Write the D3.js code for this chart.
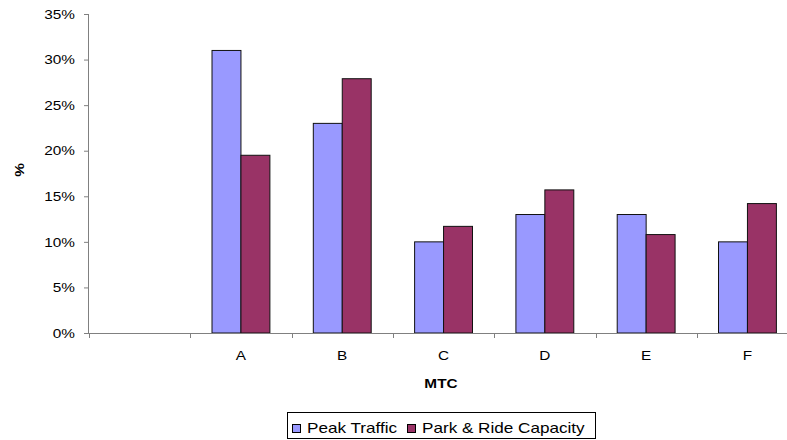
<!DOCTYPE html>
<html>
<head>
<meta charset="utf-8">
<script src="https://cdn.jsdelivr.net/npm/d3@7"></script>
<style>
  body { margin: 0; background: #fff; }
  svg { display: block; font-family: "Liberation Sans", Arial, sans-serif; }
</style>
</head>
<body>
<div id="chart"></div>
<script>
// categories (first slot is empty in the original sheet)
const categories = ['', 'A', 'B', 'C', 'D', 'E', 'F'];
const seriesNames = ['Peak Traffic', 'Park & Ride Capacity'];
const peakTraffic = [null, 31, 23, 10, 13, 13, 10];
const parkRide = [null, 19.5, 27.9, 11.7, 15.7, 10.8, 14.2];
const yTicks = [0, 5, 10, 15, 20, 25, 30, 35];
const colors = ['#9999FF', '#993366'];

const W = 787, H = 440;
const stretchK = 1.18; // text in the original is a bit wide

const svg = d3.select('#chart').append('svg')
    .attr('width', W)
    .attr('height', H);

// plot area runs a bit past the right edge, like the source image
const plotLeft = 89, plotTop = 14, plotBottom = 333;
const step = 101.3;

const x0 = d3.scaleBand()
    .domain(categories)
    .range([plotLeft, plotLeft + step * categories.length])
    .padding(0);

const x1 = d3.scaleBand()
    .domain(seriesNames)
    .range([0, x0.bandwidth()])
    .paddingInner(0)
    .paddingOuter(0.75);

const y = d3.scaleLinear()
    .domain([0, 35])
    .range([plotBottom, plotTop]);

function stretch(sel) {
    sel.each(function() {
        const len = this.getComputedTextLength();
        d3.select(this)
            .attr('textLength', len * stretchK)
            .attr('lengthAdjust', 'spacingAndGlyphs');
    });
}

// bars
const rows = categories.map((c, i) => ({cat: c, vals: [peakTraffic[i], parkRide[i]]}));

const groups = svg.append('g').selectAll('g')
    .data(rows)
    .join('g')
    .attr('transform', d => `translate(${x0(d.cat)},0)`);

groups.selectAll('rect')
    .data(d => d.vals.map((v, j) => ({name: seriesNames[j], v: v, j: j})).filter(e => e.v != null))
    .join('rect')
    .attr('x', d => x1(d.name))
    .attr('y', d => y(d.v))
    .attr('width', x1.bandwidth())
    .attr('height', d => y(0) - y(d.v))
    .attr('fill', d => colors[d.j])
    .attr('stroke', '#111')
    .attr('stroke-width', 1);

// y axis
const yAxis = svg.append('g')
    .attr('transform', `translate(${plotLeft},0)`)
    .call(d3.axisLeft(y).tickValues(yTicks).tickFormat(d => d + '%').tickSize(5).tickPadding(9));
yAxis.select('.domain').attr('stroke', '#808080').attr('d', `M-0.5,${plotTop}V${plotBottom}`);
yAxis.selectAll('.tick line').attr('stroke', '#808080');
yAxis.selectAll('.tick text')
    .attr('font-size', 13)
    .attr('fill', '#000')
    .attr('font-family', '"Liberation Sans", Arial, sans-serif');

// x axis: ticks sit between categories
const xAxis = svg.append('g')
    .attr('transform', `translate(0,${plotBottom})`);
xAxis.append('line')
    .attr('x1', plotLeft).attr('x2', plotLeft + step * categories.length)
    .attr('y1', 0.5).attr('y2', 0.5)
    .attr('stroke', '#808080');
xAxis.selectAll('.xt')
    .data(categories.concat(['end']))
    .join('line')
    .attr('class', 'xt')
    .attr('x1', (d, i) => Math.round(plotLeft + step * i) + 0.5)
    .attr('x2', (d, i) => Math.round(plotLeft + step * i) + 0.5)
    .attr('y1', 0).attr('y2', 5)
    .attr('stroke', '#808080');
xAxis.selectAll('.xl')
    .data(categories)
    .join('text')
    .attr('class', 'xl')
    .attr('x', d => x0(d) + x0.bandwidth() / 2)
    .attr('y', 27)
    .attr('text-anchor', 'middle')
    .attr('font-size', 13)
    .text(d => d);

// axis titles
svg.append('text')
    .attr('x', 441)
    .attr('y', 388)
    .attr('text-anchor', 'middle')
    .attr('font-size', 13)
    .attr('font-weight', 'bold')
    .text('MTC');

svg.append('text')
    .attr('transform', 'translate(24,170) rotate(-90)')
    .attr('text-anchor', 'middle')
    .attr('font-size', 13)
    .attr('font-weight', 'bold')
    .text('%');

// legend
const legend = svg.append('g');
legend.append('rect')
    .attr('x', 287.5).attr('y', 412.5)
    .attr('width', 308).attr('height', 26)
    .attr('fill', '#fff')
    .attr('stroke', '#000');

const itemX = [292, 407];
seriesNames.forEach((name, i) => {
    legend.append('rect')
        .attr('x', itemX[i] + 0.5).attr('y', 424.5)
        .attr('width', 8).attr('height', 8)
        .attr('fill', colors[i])
        .attr('stroke', '#000');
    legend.append('text')
        .attr('class', 'lt')
        .attr('x', itemX[i] + 15)
        .attr('y', 433)
        .attr('font-size', 14.5)
        .text(name);
});

svg.selectAll('text').filter(function() { return this.textContent !== ''; }).call(stretch);
</script>
</body>
</html>
